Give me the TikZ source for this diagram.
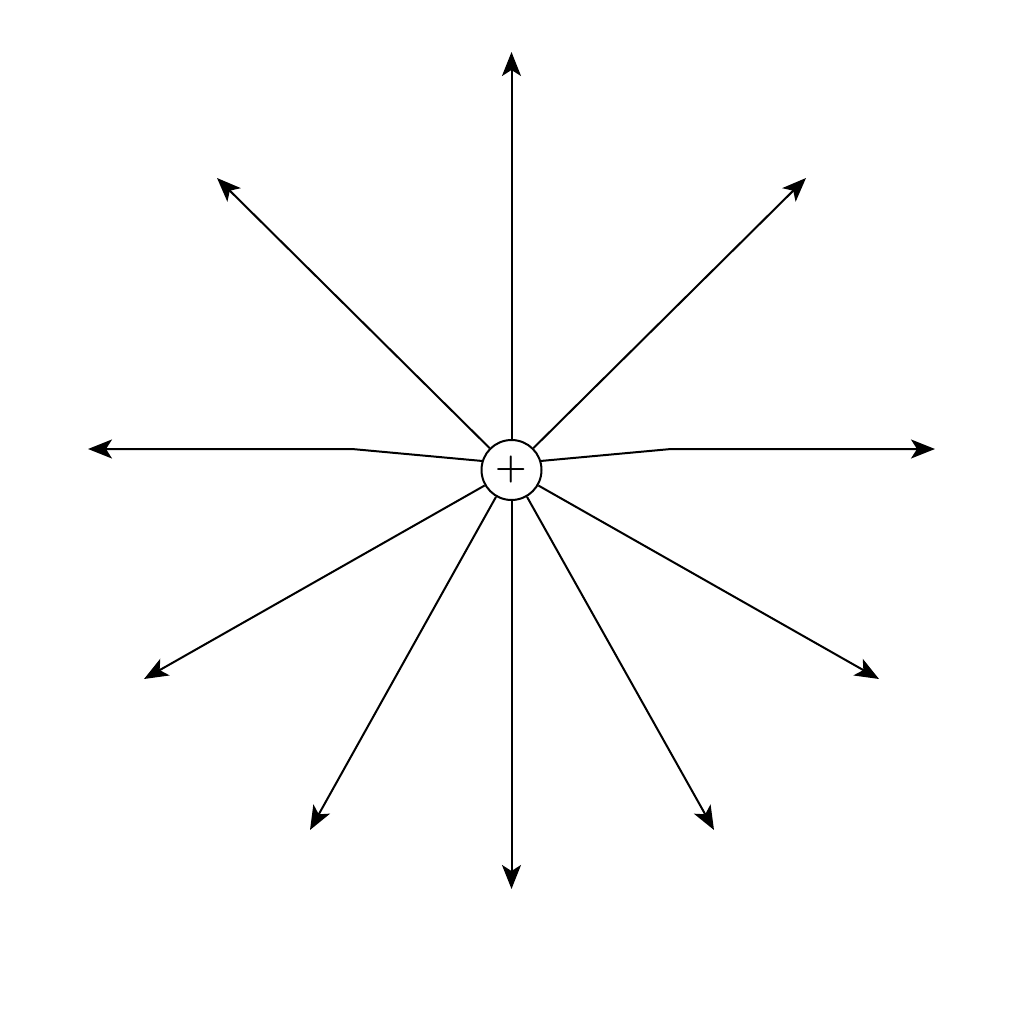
\documentclass[tikz,border=0pt]{standalone}
\usepackage{fontspec}
\usetikzlibrary{arrows.meta}
\begin{document}
\begin{tikzpicture}[x=1pt,y=-1pt,
  fieldline/.style={line width=2pt,-{Stealth[length=24pt,width=19pt,inset=6pt]}},
  charge/.style={circle,draw,line width=2pt,minimum size=60pt,inner sep=0pt,fill=white}]
\useasboundingbox (0,0) rectangle (1024,1024);
\node[charge] (c) at (511.5,470) {};
\node[font=\fontsize{36}{36}\selectfont\bfseries,inner sep=0pt] (plus) at (c.center) {+};
\coordinate (tU) at (511.5,52);
\coordinate (tD) at (511.5,889);
\coordinate (tUL) at (217,178);
\coordinate (tUR) at (806,178);
\coordinate (tL) at (88,449);
\coordinate (tR) at (935,449);
\coordinate (bL) at (352,449);
\coordinate (bR) at (671,449);
\coordinate (tLL) at (144,679);
\coordinate (tLR) at (879,679);
\coordinate (tSL) at (310,830);
\coordinate (tSR) at (714,830);
\draw[fieldline] (c.90) -- (tU);
\draw[fieldline] (c.-90) -- (tD);
\draw[fieldline] (c.135) -- (tUL);
\draw[fieldline] (c.45) -- (tUR);
\draw[fieldline] (c.163) -- (bL) -- (tL);
\draw[fieldline] (c.17) -- (bR) -- (tR);
\draw[fieldline] (c.210) -- (tLL);
\draw[fieldline] (c.-30) -- (tLR);
\draw[fieldline] (c.240) -- (tSL);
\draw[fieldline] (c.-60) -- (tSR);
\end{tikzpicture}
\end{document}
